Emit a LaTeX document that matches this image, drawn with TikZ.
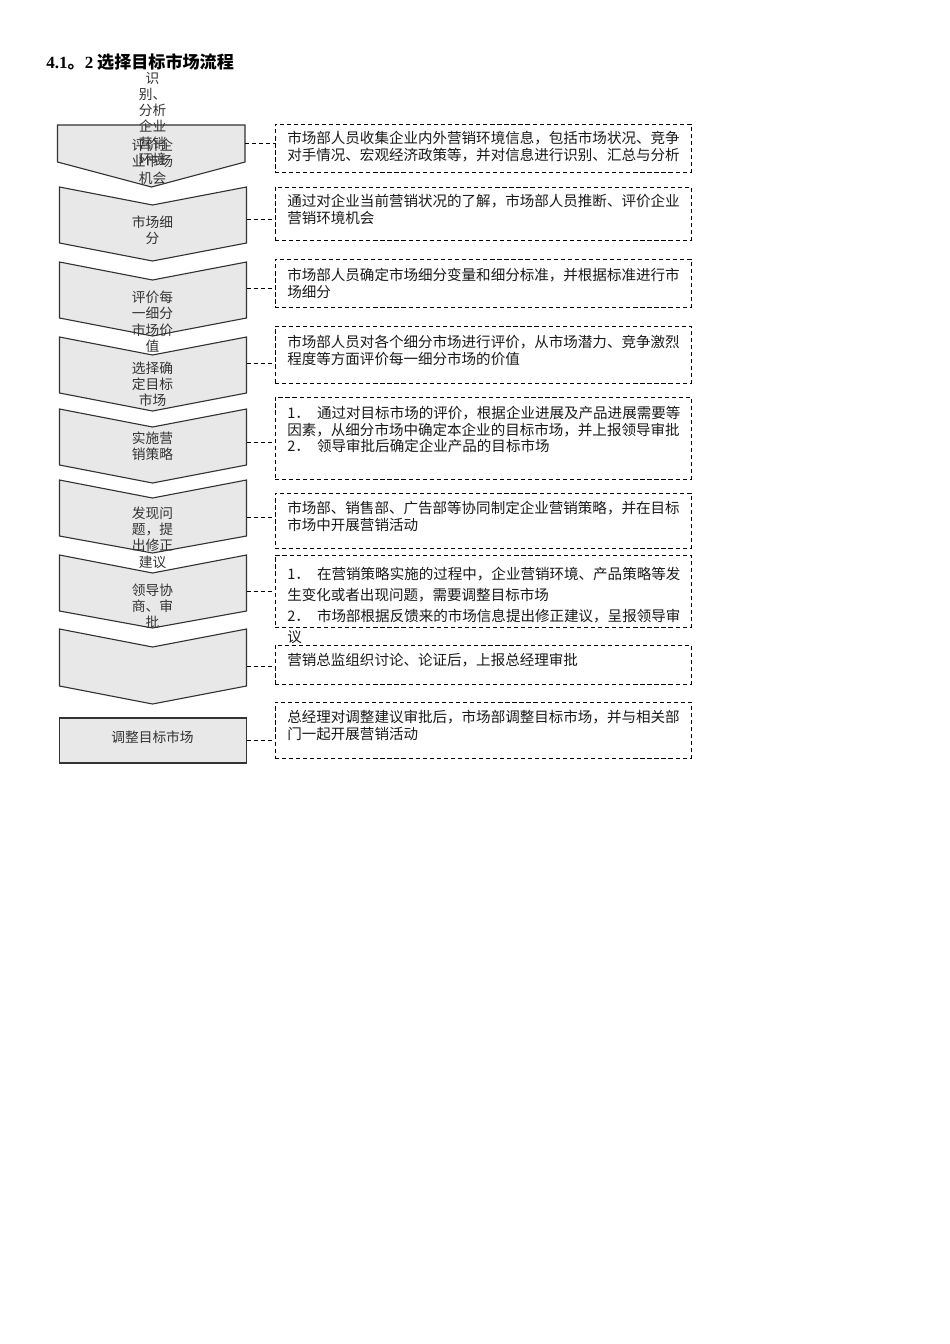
\documentclass[tikz,border=0pt]{standalone}
\usepackage{fontspec}
\setmainfont{Noto Sans CJK SC}
\newfontfamily\latfont{Liberation Serif}
\usetikzlibrary{fit}
\definecolor{chevfill}{HTML}{E8E8E8}
\definecolor{inkgray}{HTML}{333333}
\tikzset{
  chev/.style={line width=0.7pt,draw=black!80,fill=chevfill},
  box/.style={draw=black,line width=0.6pt,dash pattern=on 2.6pt off 1.8pt,inner sep=0pt},
  link/.style={draw=black,line width=0.6pt,dash pattern=on 2.6pt off 1.8pt},
  lbl/.style={inner sep=0pt,anchor=north,align=center,text=inkgray,font=\fontsize{8.6}{10.2}\selectfont},
  txt/.style={inner sep=0pt,anchor=north west,align=left,text=black!90,font=\fontsize{9.1}{10.3}\selectfont},
}
\begin{document}
\begin{tikzpicture}[x=0.6262pt,y=-0.6262pt]
    \useasboundingbox (0,0) rectangle (950,1344);
    % Title
    \node[anchor=west,inner sep=0pt,font=\fontsize{10.7}{12}\selectfont\bfseries] (title) at (46,62) {{\latfont 4.1}。{\latfont 2} 选择目标市场流程};
    % Chevrons
    \draw[chev] (57.5,125) -- (245,125) -- (245,162) -- (151.5,187) -- (57.5,162) -- cycle;
    \draw[chev] (59.5,187) -- (152.5,205) -- (246.5,187) -- (246.5,243) -- (152.5,261) -- (59.5,243) -- cycle;
    \draw[chev] (59.5,262) -- (152.5,280) -- (246.5,262) -- (246.5,318) -- (152.5,336) -- (59.5,318) -- cycle;
    \draw[chev] (59.5,337) -- (152.5,355) -- (246.5,337) -- (246.5,393) -- (152.5,411) -- (59.5,393) -- cycle;
    \draw[chev] (59.5,409) -- (152.5,427) -- (246.5,409) -- (246.5,465) -- (152.5,483) -- (59.5,465) -- cycle;
    \draw[chev] (59.5,480) -- (152.5,498) -- (246.5,480) -- (246.5,536) -- (152.5,553) -- (59.5,536) -- cycle;
    \draw[chev] (59.5,555) -- (152.5,573) -- (246.5,555) -- (246.5,611) -- (152.5,628) -- (59.5,611) -- cycle;
    \draw[chev] (59.5,629) -- (152.5,647) -- (246.5,629) -- (246.5,686) -- (152.5,704) -- (59.5,686) -- cycle;
    \draw[chev] (59.5,718) rectangle (246.5,763);
    % Chevron labels
    \node[lbl] (l1a) at (152.5,71.5) {识\\别、\\分析\\企业\\营销\\环境};
    \node[lbl] (l1b) at (152.5,138.5) {评价企\\业市场\\机会};
    \node[lbl] (l2) at (152.5,215.5) {市场细\\分};
    \node[lbl] (l3) at (152.5,290.5) {评价每\\一细分\\市场价\\值};
    \node[lbl] (l4) at (152.5,361.5) {选择确\\定目标\\市场};
    \node[lbl] (l5) at (152.5,431.5) {实施营\\销策略};
    \node[lbl] (l6) at (152.5,506.5) {发现问\\题，提\\出修正\\建议};
    \node[lbl] (l7) at (152.5,583.5) {领导协\\商、审\\批};
    \node[lbl] (l9) at (152.5,730.5) {调整目标市场};
    % Description boxes
    \node[box,fit={(275,124) (691,172)}] (b1) {};
    \node[box,fit={(275,187) (691,240)}] (b2) {};
    \node[box,fit={(275,259) (691,307)}] (b3) {};
    \node[box,fit={(275,326) (691,383)}] (b4) {};
    \node[box,fit={(275,397) (691,479)}] (b5) {};
    \node[box,fit={(275,493) (691,548)}] (b6) {};
    \node[box,fit={(275,555) (691,627)}] (b7) {};
    \node[box,fit={(275,645) (691,684)}] (b8) {};
    \node[box,fit={(275,702) (691,758)}] (b9) {};
    % Links
    \coordinate (k1) at (245,143);
    \coordinate (k2) at (246.5,219);
    \coordinate (k3) at (246.5,288);
    \coordinate (k4) at (246.5,363);
    \coordinate (k5) at (246.5,442);
    \coordinate (k6) at (246.5,517);
    \coordinate (k7) at (246.5,591);
    \coordinate (k8) at (246.5,666);
    \coordinate (k9) at (246.5,740);
    \draw[link] (k1) -- (k1 -| b1.west);
    \draw[link] (k2) -- (k2 -| b2.west);
    \draw[link] (k3) -- (k3 -| b3.west);
    \draw[link] (k4) -- (k4 -| b4.west);
    \draw[link] (k5) -- (k5 -| b5.west);
    \draw[link] (k6) -- (k6 -| b6.west);
    \draw[link] (k7) -- (k7 -| b7.west);
    \draw[link] (k8) -- (k8 -| b8.west);
    \draw[link] (k9) -- (k9 -| b9.west);
    % Box texts
    \node[txt] (t1) at (287,131) {市场部人员收集企业内外营销环境信息，包括市场状况、竞争\\对手情况、宏观经济政策等，并对信息进行识别、汇总与分析};
    \node[txt] (t2) at (287,194) {通过对企业当前营销状况的了解，市场部人员推断、评价企业\\营销环境机会};
    \node[txt] (t3) at (287,268) {市场部人员确定市场细分变量和细分标准，并根据标准进行市\\场细分};
    \node[txt] (t4) at (287,335) {市场部人员对各个细分市场进行评价，从市场潜力、竞争激烈\\程度等方面评价每一细分市场的价值};
    \node[txt] (t5) at (287,406) {1．\hspace{4.5pt}通过对目标市场的评价，根据企业进展及产品进展需要等\\因素，从细分市场中确定本企业的目标市场，并上报领导审批\\2．\hspace{4.5pt}领导审批后确定企业产品的目标市场};
    \node[txt] (t6) at (287,501) {市场部、销售部、广告部等协同制定企业营销策略，并在目标\\市场中开展营销活动};
    \node[txt,font=\fontsize{9.1}{13.1}\selectfont] (t7) at (287,567) {1．\hspace{4.5pt}在营销策略实施的过程中，企业营销环境、产品策略等发\\生变化或者出现问题，需要调整目标市场\\2．\hspace{4.5pt}市场部根据反馈来的市场信息提出修正建议，呈报领导审\\议};
    \node[txt] (t8) at (287,653) {营销总监组织讨论、论证后，上报总经理审批};
    \node[txt] (t9) at (287,710) {总经理对调整建议审批后，市场部调整目标市场，并与相关部\\门一起开展营销活动};
\end{tikzpicture}
\end{document}
